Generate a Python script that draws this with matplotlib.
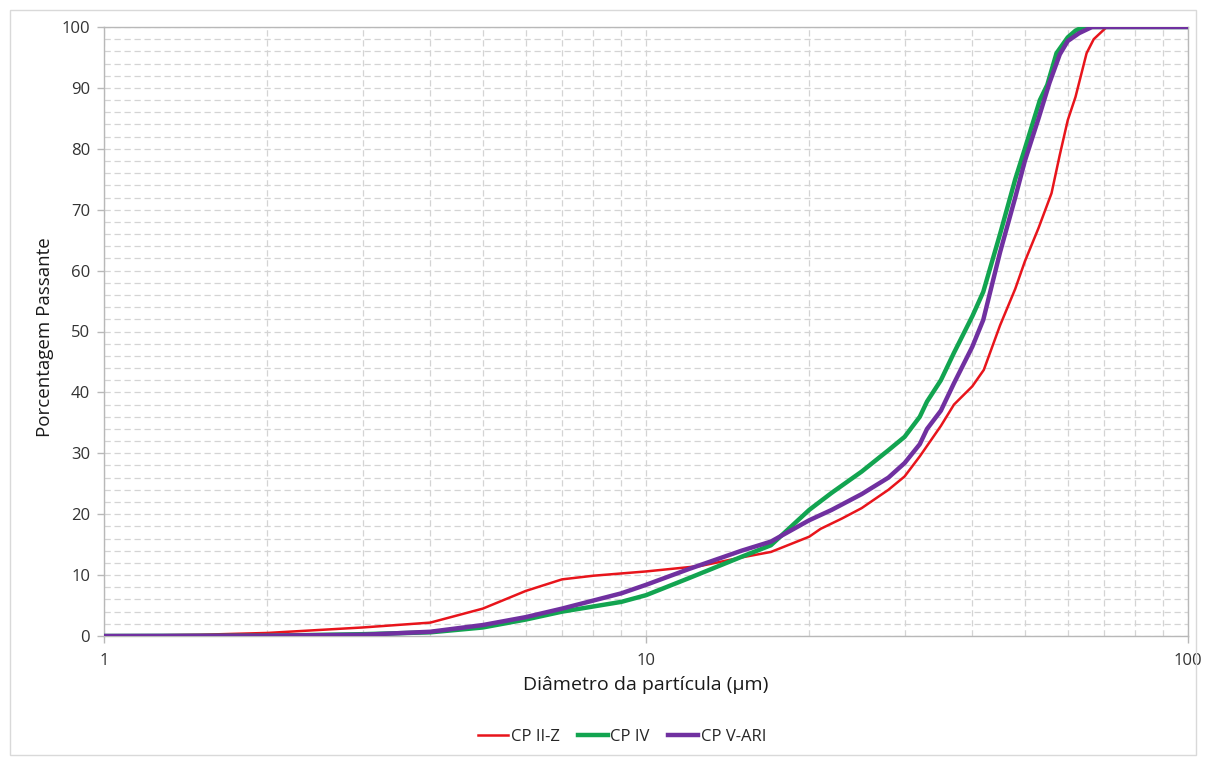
import matplotlib
matplotlib.use("Agg")
import matplotlib.pyplot as plt
from matplotlib.ticker import FixedLocator, NullFormatter, FixedFormatter, MultipleLocator
from matplotlib.patches import Rectangle

plt.rcParams['font.family'] = ['Open Sans', 'DejaVu Sans']

# Data (diameter in µm, percent passing)
red_x = [1, 1.5, 2, 3, 4, 5, 6, 7, 8, 10, 12.6, 15, 17, 20, 21, 23, 25, 28, 30, 32, 35, 37, 40, 42, 45, 48, 50, 53, 56, 58, 60, 62, 65, 67, 70.8, 100]
red_y = [0, 0.2, 0.5, 1.4, 2.2, 4.5, 7.4, 9.3, 9.9, 10.6, 11.5, 12.9, 13.8, 16.3, 17.6, 19.3, 21.0, 24.0, 26.2, 29.5, 34.5, 38.0, 41.0, 43.7, 51.0, 57.0, 61.5, 67.0, 72.7, 79.0, 84.7, 88.5, 95.7, 98.0, 100, 100]

green_x = [1, 2, 3, 4, 5, 6, 7, 9, 10, 12, 15, 17, 20, 22, 25, 28, 30, 32, 33, 35, 37, 40, 41.9, 45, 48, 50, 53.3, 55, 57.2, 60, 62, 64, 100]
green_y = [0, 0.05, 0.3, 0.6, 1.4, 2.7, 4.0, 5.6, 6.7, 9.5, 13.0, 14.9, 20.7, 23.5, 27.0, 30.5, 32.7, 36.0, 38.5, 42.0, 46.5, 52.5, 56.5, 66.0, 75.0, 80.0, 88.0, 90.5, 95.7, 98.3, 99.4, 100, 100]

purple_x = [1, 2, 3, 4, 5, 6, 7, 9, 10, 12, 15, 17, 20, 22, 25, 28, 30, 32, 33, 35, 37, 40, 41.9, 45, 48, 50, 53, 55.5, 58, 60, 63, 66.5, 100]
purple_y = [0, 0.05, 0.2, 0.7, 1.8, 3.1, 4.5, 7.0, 8.4, 11.0, 14.0, 15.5, 19.0, 20.7, 23.3, 26.0, 28.4, 31.5, 34.0, 37.0, 41.5, 47.5, 51.9, 63.0, 72.0, 78.0, 85.0, 90.8, 95.5, 97.7, 99.0, 100, 100]

series_names = ['CP II-Z', 'CP IV', 'CP V-ARI']
colors = ['#E8141B', '#12A450', '#7030A0']

x_ticks = [1, 10, 100]
x_tick_labels = ['1', '10', '100']

fig = plt.figure(figsize=(12.06, 7.58), dpi=100)
ax = fig.add_axes([104/1206, 1-636/758, (1188-104)/1206, (636-27)/758])

ax.plot(red_x, red_y, color=colors[0], lw=1.8, label=series_names[0], zorder=3)
ax.plot(green_x, green_y, color=colors[1], lw=3.2, label=series_names[1], zorder=4)
ax.plot(purple_x, purple_y, color=colors[2], lw=3.2, label=series_names[2], zorder=5)

ax.set_xscale('log')
ax.set_xlim(1, 100)
ax.set_ylim(0, 100)
ax.xaxis.set_major_locator(FixedLocator(x_ticks))
ax.xaxis.set_major_formatter(FixedFormatter(x_tick_labels))
minor = [m * d for d in (1, 10) for m in range(2, 10)]
ax.xaxis.set_minor_locator(FixedLocator(minor))
ax.xaxis.set_minor_formatter(NullFormatter())
ax.yaxis.set_major_locator(MultipleLocator(10))
ax.yaxis.set_minor_locator(MultipleLocator(2))

ax.grid(which='both', axis='both', color='#d4d4d4', linestyle=(0, (5, 3)), linewidth=0.9, zorder=0)
ax.set_axisbelow(True)

for s in ax.spines.values():
    s.set_color('#b8b8b8')
    s.set_linewidth(1.0)

ax.tick_params(axis='both', which='major', length=5, width=1, color='#b8b8b8',
               labelsize=12, labelcolor='#333333', pad=5)
ax.tick_params(axis='both', which='minor', length=0)
ax.tick_params(axis='x', which='major', pad=7)

ax.set_xlabel('Diâmetro da partícula (µm)', fontsize=14, color='#1a1a1a', labelpad=5)
ax.set_ylabel('Porcentagem Passante', fontsize=13.5, color='#1a1a1a', labelpad=9)
ax.yaxis.set_label_coords(-0.046, 0.491)

fig.legend(loc='center', bbox_to_anchor=(622/1206, 1-737/758), ncol=3, frameon=False,
           fontsize=12, handlelength=1.8, handletextpad=0.15, columnspacing=1.1,
           labelcolor='#262626')

fig.patches.append(Rectangle((10/1206, 3/758), 1186/1206, 745/758, transform=fig.transFigure,
                             fill=False, edgecolor='#d9d9d9', linewidth=1.0))

fig.savefig('out.png', dpi=100)
